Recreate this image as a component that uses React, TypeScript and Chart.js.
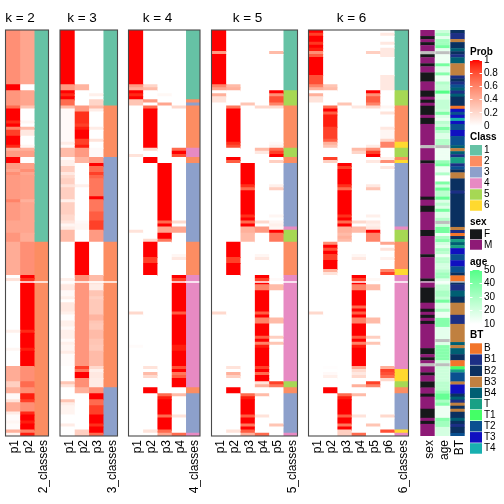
import React, { useEffect, useRef } from "react";
import { Chart, registerables } from "chart.js";

Chart.register(...registerables);

type Run = [number, number];
const ROWS = 134;
const SPLIT_ROW = 83;
const FONT = "'Liberation Sans', Arial, sans-serif";

const classColors = ["#66C2A5", "#FC8D62", "#8DA0CB", "#E78AC3", "#A6D854", "#FFD92F"];
const classLabels = ["1", "2", "3", "4", "5", "6"];
const sexLabels = ["F", "M"];
const sexColors = ["#16181A", "#8E1A76"];
const btLabels = ["B", "B1", "B2", "B3", "B4", "T", "T1", "T2", "T3", "T4"];
const btColors = ["#F2752A", "#1C2F85", "#0A3060", "#C08040", "#005F73", "#18A085", "#44FF66", "#0A5090", "#1010C0", "#18B0B0"];

const k2_p1: Run[] = [[18,.55],[2,1],[5,.52],[1,.7],[4,1],[1,.92],[1,1],[1,.6],[2,.85],[3,1],[1,.92],[1,.4],[2,.5],[2,1],[2,.5],[1,.45],[1,.55],[8,.5],[1,.6],[6,.5],[4,.45],[3,.52],[11,.42],[1,0],[1,.15],[16,0],[1,.08],[5,0],[1,.05],[5,0],[5,.42],[2,.25],[2,.4],[2,.03],[1,.15],[3,.42],[1,.1],[2,.02],[1,.05],[2,.02],[1,.4],[1,.05]];
const k2_p2: Run[] = [[18,.45],[2,0],[5,.45],[1,.3],[4,0],[1,.05],[1,0],[1,.35],[2,.12],[3,0],[1,.05],[1,.4],[2,.48],[2,0],[2,.48],[1,.55],[1,.45],[8,.48],[1,.4],[6,.45],[4,.45],[3,.42],[11,.55],[1,1],[1,.9],[16,1],[1,.92],[5,1],[1,.95],[5,1],[5,.55],[2,.7],[2,.55],[2,.95],[1,.85],[3,.55],[1,.92],[2,1],[1,.95],[2,1],[1,.6],[1,.95]];
const k2_cl: Run[] = [[70,1],[64,2]];

const k3_p1: Run[] = [[18,1],[2,.5],[1,1],[1,.92],[1,1],[2,.7],[1,.35],[11,.03],[1,.1],[1,.02],[3,.35],[1,.03],[2,.08],[2,.25],[1,.12],[1,.2],[2,.25],[1,.15],[4,.25],[1,.08],[4,.25],[2,.2],[1,.15],[1,.05],[1,.1],[4,.35],[12,0],[1,.08],[1,.03],[2,.12],[2,.03],[1,.08],[1,0],[3,.12],[1,.08],[2,.01],[2,.08],[1,.03],[3,.08],[1,.02],[1,.08],[2,.05],[1,.1],[4,.02],[5,0],[1,.3],[1,.15],[4,0],[1,.3],[1,.1],[3,.06],[3,0],[1,.1],[3,0]];
const k3_p2: Run[] = [[18,0],[2,.38],[5,0],[2,.5],[4,.9],[1,.85],[1,.95],[3,1],[2,.85],[1,.95],[3,.5],[2,.38],[7,0],[1,.08],[11,0],[1,.03],[2,.05],[4,0],[11,1],[2,.55],[28,.52],[1,.85],[1,.65],[2,1],[3,.55],[2,.4],[12,0],[2,.25]];
const k3_p3: Run[] = [[21,0],[1,.08],[1,0],[2,.22],[1,.35],[1,.1],[5,0],[1,.1],[3,0],[1,.15],[2,0],[3,.03],[2,.5],[1,1],[2,.7],[1,.85],[1,.72],[6,.65],[1,1],[4,.65],[3,.75],[3,.85],[4,.5],[11,0],[2,.35],[1,.15],[2,.1],[2,.3],[1,.25],[5,.28],[2,.38],[1,.3],[2,.28],[3,.35],[2,.3],[2,.28],[5,.35],[1,.2],[1,.08],[2,.12],[3,.1],[2,.55],[2,1],[2,.7],[3,.85],[3,1],[1,.9],[2,1],[1,.7]];
const k3_cl: Run[] = [[25,1],[17,2],[28,3],[48,2],[16,3]];

const k4_p1: Run[] = [[18,1],[1,.5],[1,.4],[1,1],[1,.92],[1,1],[2,.3],[16,0],[1,.15],[24,0],[1,.15],[26,0],[1,.2],[10,0],[1,.02],[29,0]];
const k4_p2: Run[] = [[18,0],[1,.22],[1,.35],[3,0],[1,.5],[1,0],[1,.7],[13,1],[1,.2],[2,0],[2,1],[25,0],[1,.2],[5,1],[2,.85],[4,1],[30,0],[1,.15],[1,0],[1,.35],[1,.2],[3,0],[2,1],[12,0],[1,.15],[1,0]];
const k4_p3: Run[] = [[21,0],[1,.04],[2,0],[1,.45],[19,0],[19,1],[1,.7],[1,1],[2,.45],[2,1],[1,.65],[50,0],[1,.7],[1,.95],[5,1],[1,.7],[4,1],[1,.7],[1,.45]];
const k4_p4: Run[] = [[25,0],[1,.2],[13,0],[1,.7],[1,1],[1,.8],[21,0],[1,.2],[1,0],[2,.45],[7,0],[1,.05],[1,.12],[5,0],[1,1],[1,.85],[10,1],[1,.75],[10,1],[2,.95],[5,1],[1,.8],[1,1],[1,.65],[1,.75],[3,1],[2,0],[1,.35],[6,0],[1,.15],[5,0],[1,.7]];
const k4_cl: Run[] = [[23,1],[1,2],[1,3],[14,2],[3,4],[2,2],[26,3],[11,2],[37,4],[2,2],[13,3],[1,4]];

const k5_p1: Run[] = [[7,1],[1,.5],[10,1],[1,.6],[1,.45],[1,0],[1,.4],[2,.15],[69,0],[1,.2],[40,0]];
const k5_p2: Run[] = [[18,0],[1,.35],[1,.4],[5,0],[1,.65],[11,1],[1,.9],[1,.8],[3,0],[1,1],[1,.75],[26,0],[5,1],[2,.85],[4,1],[30,0],[1,.15],[1,0],[1,.4],[1,.25],[3,0],[2,1],[12,0],[1,.15],[1,0]];
const k5_p3: Run[] = [[24,0],[1,.3],[19,0],[7,1],[1,.9],[1,.7],[8,1],[1,.9],[1,1],[1,.7],[1,1],[2,.4],[3,.35],[50,0],[1,.7],[1,.95],[5,1],[1,.75],[2,1],[1,.65],[1,1],[1,.75],[1,.4]];
const k5_p4: Run[] = [[25,0],[1,.2],[13,0],[1,.35],[1,.12],[22,0],[1,.2],[1,0],[2,.5],[7,0],[1,.05],[1,.12],[5,0],[1,1],[1,.85],[1,1],[2,.6],[7,1],[1,.75],[1,1],[2,.6],[4,1],[1,.75],[1,1],[1,.6],[1,.95],[6,1],[1,.85],[1,1],[1,.7],[1,1],[1,1],[1,.15],[1,.4],[2,0],[1,.35],[6,0],[1,.15],[5,0],[1,.7]];
const k5_p5: Run[] = [[7,0],[1,.35],[12,0],[1,1],[1,.55],[2,.8],[1,.6],[1,.2],[11,0],[1,.03],[1,.08],[1,.7],[1,.85],[1,1],[1,0],[1,.25],[7,0],[1,.08],[1,.25],[8,0],[1,.05],[1,0],[1,.05],[1,.08],[1,.05],[1,1],[3,.65],[12,0],[1,.03],[1,0],[2,.35],[9,0],[2,.35],[4,0],[1,.25],[1,0],[1,.3],[12,0],[1,.85],[1,.65],[12,0],[1,.3],[3,0]];
const k5_cl: Run[] = [[20,1],[5,5],[14,2],[3,5],[2,2],[21,3],[1,4],[4,5],[11,2],[35,4],[2,5],[2,2],[13,3],[1,4]];

const k6_p1: Run[] = [[1,1],[1,.85],[2,1],[1,.88],[1,1],[1,.95],[1,.55],[1,.75],[6,1],[3,.8],[1,.6],[1,.4],[1,0],[1,.4],[2,.15],[69,0],[1,.2],[40,0]];
const k6_p2: Run[] = [[18,0],[1,.3],[1,.35],[5,0],[1,.7],[1,1],[1,.75],[4,.95],[4,.85],[1,.75],[1,.4],[1,.3],[3,0],[1,.85],[1,.25],[26,0],[1,.55],[1,1],[1,.8],[1,1],[2,.85],[3,1],[1,.4],[1,.15],[30,0],[1,.01],[1,0],[1,.03],[1,.08],[3,0],[2,1],[14,0]];
const k6_p3: Run[] = [[24,0],[1,.3],[19,0],[1,1],[1,.85],[5,1],[1,.9],[1,.7],[8,1],[1,.9],[1,1],[1,.7],[1,1],[1,.4],[1,.4],[1,.35],[1,.4],[1,.35],[50,0],[1,.7],[1,.95],[5,1],[1,.75],[2,1],[1,.65],[1,1],[2,.25]];
const k6_p4: Run[] = [[25,0],[1,.12],[13,0],[1,.35],[1,.22],[22,0],[1,.2],[1,0],[2,.35],[7,0],[1,.05],[1,.12],[5,0],[1,1],[1,.85],[1,1],[2,.6],[5,1],[1,.7],[1,1],[1,.75],[1,1],[2,.6],[4,1],[1,.75],[1,1],[1,.6],[1,.95],[6,1],[1,.45],[1,.2],[1,.12],[1,.2],[2,0],[1,.4],[2,0],[1,.35],[6,0],[1,.15],[5,0],[1,.7]];
const k6_p5: Run[] = [[7,0],[1,.25],[12,0],[1,1],[1,.55],[2,.75],[1,.6],[1,.2],[12,0],[1,.1],[1,.55],[1,.85],[1,1],[1,0],[1,.12],[7,0],[1,.12],[1,.3],[8,0],[1,.08],[1,0],[1,.12],[1,.08],[1,.12],[1,1],[3,.6],[12,0],[1,.04],[1,0],[2,.35],[9,0],[2,.35],[4,0],[1,.25],[1,0],[1,.3],[12,0],[1,.85],[1,.6],[12,0],[1,.3],[3,0]];
const k6_p6: Run[] = [[1,0],[1,.12],[2,0],[1,.12],[1,0],[3,.12],[6,0],[5,.12],[5,0],[1,.05],[1,0],[1,.15],[4,0],[1,.12],[3,.05],[1,.22],[2,.6],[3,0],[1,.08],[1,.55],[1,0],[1,.12],[24,0],[1,.45],[1,0],[1,.15],[2,0],[1,.07],[3,0],[1,.6],[1,.85],[30,0],[1,.4],[1,.85],[1,.8],[1,.7],[1,.2],[11,0],[1,.2],[4,0],[1,.8],[1,0]];
const k6_cl: Run[] = [[20,1],[5,5],[12,2],[2,6],[3,5],[1,2],[1,6],[21,3],[1,4],[4,5],[9,2],[2,6],[31,4],[4,6],[2,5],[2,2],[12,3],[1,6],[1,4]];

// sex: 0 = missing, 1 = F, 2 = M
const sexRuns: Run[] = [[2,2],[1,1],[1,2],[1,1],[2,2],[1,0],[1,1],[2,2],[1,1],[2,2],[3,1],[3,2],[2,1],[1,2],[1,1],[1,2],[3,1],[1,2],[2,1],[7,2],[1,0],[4,2],[1,1],[11,2],[1,1],[2,2],[2,1],[6,2],[2,1],[6,2],[1,1],[7,2],[1,1],[2,2],[5,1],[2,2],[1,1],[1,2],[1,1],[1,2],[1,1],[8,2],[2,1],[1,2],[1,1],[1,2],[1,0],[2,2],[1,1],[2,2],[2,1],[2,2],[1,1],[4,2],[3,1],[1,2],[1,1],[4,2]];
const ageRows: (number | null)[] = [22,30,16,32,32,42,16,null,14,14,14,42,17,17,38,14,14,28,24,24,50,18,18,24,24,24,22,40,18,14,26,22,40,26,18,18,28,28,null,14,14,14,14,34,42,14,14,28,10,10,40,20,44,26,26,46,18,26,18,42,18,18,28,null,22,42,42,14,30,38,20,16,30,26,14,26,26,20,20,26,32,32,18,14,24,24,30,30,24,42,18,18,30,14,14,38,38,38,16,16,16,16,null,18,38,38,38,38,38,22,null,22,22,22,22,22,26,26,26,34,46,46,30,38,14,14,14,14,38,32,32,20,20,20];
// BT: index into btLabels
const btRuns: Run[] = [[1,2],[2,1],[1,3],[2,2],[1,4],[1,2],[1,1],[2,4],[4,3],[1,1],[1,2],[1,1],[1,7],[1,4],[1,1],[1,4],[3,2],[1,0],[1,8],[1,7],[1,8],[1,9],[1,8],[2,7],[2,8],[3,7],[1,4],[1,3],[1,4],[1,1],[2,5],[1,1],[1,7],[1,2],[2,3],[4,2],[1,1],[11,2],[1,3],[1,1],[1,0],[1,2],[1,5],[1,4],[1,5],[2,8],[2,7],[2,8],[2,7],[1,2],[2,0],[1,2],[2,1],[2,4],[2,2],[4,3],[3,1],[6,3],[1,4],[1,3],[2,4],[2,2],[2,0],[1,6],[1,5],[3,7],[1,3],[3,8],[1,2],[1,4],[1,1],[1,3],[1,2],[1,3],[2,2],[1,4],[1,2],[1,1],[2,2],[1,7]];

function probColor(v: number): string {
  const g = Math.round(255 * Math.pow(1 - v, 0.725));
  const b = Math.round(255 * Math.pow(1 - v, 0.975));
  return `rgb(255,${g},${b})`;
}
function ageColor(a: number | null): string {
  if (a === null) return "#BEBEBE";
  const t = (a - 10) / 40;
  const r = Math.round(255 + (84 - 255) * t);
  const g = 255;
  const b = Math.round(255 + (136 - 255) * t);
  return `rgb(${r},${g},${b})`;
}

type Col = { label: string; runs: { len: number; color: string }[] };
function probCol(label: string, runs: Run[]): Col {
  return { label, runs: runs.map(([len, v]) => ({ len, color: probColor(v) })) };
}
function classCol(label: string, runs: Run[]): Col {
  return { label, runs: runs.map(([len, c]) => ({ len, color: classColors[c - 1] })) };
}

const panels = [
  { title: "k = 2", x0: 5.5, x1: 48.5, cols: [probCol("p1", k2_p1), probCol("p2", k2_p2), classCol("2_classes", k2_cl)] },
  { title: "k = 3", x0: 60, x1: 117.5, cols: [probCol("p1", k3_p1), probCol("p2", k3_p2), probCol("p3", k3_p3), classCol("3_classes", k3_cl)] },
  { title: "k = 4", x0: 128.5, x1: 200, cols: [probCol("p1", k4_p1), probCol("p2", k4_p2), probCol("p3", k4_p3), probCol("p4", k4_p4), classCol("4_classes", k4_cl)] },
  { title: "k = 5", x0: 211.5, x1: 297.5, cols: [probCol("p1", k5_p1), probCol("p2", k5_p2), probCol("p3", k5_p3), probCol("p4", k5_p4), probCol("p5", k5_p5), classCol("5_classes", k5_cl)] },
  { title: "k = 6", x0: 308.5, x1: 408.5, cols: [probCol("p1", k6_p1), probCol("p2", k6_p2), probCol("p3", k6_p3), probCol("p4", k6_p4), probCol("p5", k6_p5), probCol("p6", k6_p6), classCol("6_classes", k6_cl)] },
];

const annotationCols: Col[] = [
  { label: "sex", runs: sexRuns.map(([len, c]) => ({ len, color: c === 0 ? "#BEBEBE" : sexColors[c - 1] })) },
  { label: "age", runs: ageRows.map((a) => ({ len: 1, color: ageColor(a) })) },
  { label: "BT", runs: btRuns.map(([len, c]) => ({ len, color: btColors[c] })) },
];

function colDataset(col: Col) {
  let s = 0;
  const data: { x: string; y: [number, number] }[] = [];
  const backgroundColor: string[] = [];
  for (const r of col.runs) {
    data.push({ x: col.label, y: [s, s + r.len + 0.12] });
    backgroundColor.push(r.color);
    s += r.len;
  }
  return { data, backgroundColor, borderWidth: 0, grouped: false, barPercentage: 1, categoryPercentage: 1 };
}

const framePlugin = {
  id: "frame",
  afterDatasetsDraw(chart: any) {
    const a = chart.chartArea;
    const c = chart.ctx;
    c.save();
    c.strokeStyle = "#4a4a4a";
    c.lineWidth = 1.1;
    c.strokeRect(a.left, a.top, a.right - a.left, a.bottom - a.top);
    c.restore();
  },
};

function fixedWidth(w: number) {
  return {
    display: true,
    grid: { display: false },
    border: { display: false },
    ticks: { display: false },
    afterFit: (s: any) => {
      s.width = w;
    },
  };
}

function Heat({ title, x0, x1, cols, frame, barPct, shift }: any) {
  const ref = useRef<HTMLCanvasElement>(null);
  const cl = Math.floor(x0) - 17;
  const pc = (x0 + x1) / 2;
  const width = Math.ceil(2 * (pc - shift - cl));
  useEffect(() => {
    const labels = cols.map((c: Col) => c.label);
    const gap = {
      data: labels.map((l: string) => ({ x: l, y: [SPLIT_ROW, SPLIT_ROW + 0.33] })),
      backgroundColor: "#ffffff",
      borderWidth: 0,
      grouped: false,
      barPercentage: 1,
      categoryPercentage: 1,
    };
    const datasets = [gap, ...cols.map(colDataset)].map((d: any) => ({
      ...d,
      barPercentage: barPct,
    }));
    const chart = new Chart(ref.current as HTMLCanvasElement, {
      type: "bar",
      data: { labels, datasets },
      plugins: frame ? [framePlugin] : [],
      options: {
        animation: false,
        responsive: false,
        layout: { padding: title ? 0 : { top: 30 } },
        plugins: {
          legend: { display: false },
          tooltip: { enabled: false },
          title: title
            ? {
                display: true,
                text: title,
                color: "#000",
                font: { family: FONT, size: 13.5, weight: "normal", lineHeight: 1 },
                padding: { top: 11.25, bottom: 5.25 },
              }
            : { display: false },
        },
        scales: {
          x: {
            type: "category",
            grid: { display: false, drawTicks: false },
            border: { display: false },
            ticks: {
              autoSkip: false,
              minRotation: 90,
              maxRotation: 90,
              padding: 4,
              labelOffset: 2,
              color: "#000",
              font: { family: FONT, size: 12 },
            },
            afterFit: (s: any) => {
              s.height = 68;
              s.paddingLeft = 0;
              s.paddingRight = 0;
            },
          },
          y: { ...fixedWidth(x0 - cl), position: "left", reverse: true, min: 0, max: ROWS },
          yRight: { ...fixedWidth(cl + width - x1), position: "right", min: 0, max: ROWS },
        },
      } as any,
    });
    return () => chart.destroy();
  }, []);
  return (
    <canvas
      ref={ref}
      width={width}
      height={504}
      style={{ position: "absolute", left: cl, top: 0, width, height: 504 }}
    />
  );
}

function legendTitle(text: string, bottom: number) {
  return {
    display: true,
    text,
    align: "start",
    color: "#000",
    font: { family: FONT, size: 10, weight: "bold", lineHeight: 1 },
    padding: { top: 0, bottom },
  };
}

function hiddenAxis(extra: any) {
  return { display: false, ...extra };
}

function rightAxis(extra: any) {
  return {
    position: "right",
    border: { display: false },
    ticks: { color: "#000", padding: 2, font: { family: FONT, size: 10 }, autoSkip: false },
    afterFit: (s: any) => {
      s.width = 22;
    },
    ...extra,
  };
}

function RampLegend({ title, top, rampBottom, min, max, step, high, titlePad }: any) {
  const ref = useRef<HTMLCanvasElement>(null);
  const height = rampBottom + 8 - top;
  useEffect(() => {
    const chart = new Chart(ref.current as HTMLCanvasElement, {
      type: "bar",
      data: {
        labels: [title],
        datasets: [
          {
            data: [[min, max]],
            borderWidth: 0,
            barPercentage: 1,
            categoryPercentage: 1,
            backgroundColor: (ctx: any) => {
              const a = ctx.chart.chartArea;
              if (!a) return "#fff";
              const g = ctx.chart.ctx.createLinearGradient(0, a.top, 0, a.bottom);
              for (let i = 0; i <= 20; i++) g.addColorStop(i / 20, high(1 - i / 20));
              return g;
            },
          },
        ],
      },
      options: {
        animation: false,
        responsive: false,
        layout: { padding: { left: 2, bottom: 8 } },
        plugins: { legend: { display: false }, tooltip: { enabled: false }, title: legendTitle(title, titlePad) },
        scales: {
          x: hiddenAxis({}),
          y: rightAxis({
            min,
            max,
            ticks: {
              color: "#000",
              padding: 2,
              stepSize: step,
              autoSkip: false,
              font: { family: FONT, size: 10 },
              callback: (v: number) => String(Math.round(v * 10) / 10),
            },
            grid: { z: 1, color: "#ffffff", drawTicks: false, lineWidth: 1 },
            border: { display: false, dash: [2.5, 7, 2.5] },
          }),
        },
      } as any,
    });
    return () => chart.destroy();
  }, []);
  return <canvas ref={ref} width={36} height={height} style={{ position: "absolute", left: 468, top, width: 36, height }} />;
}

function CatLegend({ title, top, labels, colors, itemHeight, titlePad }: any) {
  const ref = useRef<HTMLCanvasElement>(null);
  const height = Math.round(10 + titlePad + labels.length * itemHeight) + 6;
  useEffect(() => {
    const chart = new Chart(ref.current as HTMLCanvasElement, {
      type: "bar",
      data: {
        labels,
        datasets: [
          {
            data: labels.map(() => 1),
            backgroundColor: colors,
            borderWidth: 0,
            barPercentage: 0.95,
            categoryPercentage: 1,
          },
        ],
      },
      options: {
        indexAxis: "y",
        animation: false,
        responsive: false,
        layout: { padding: { left: 2, bottom: 6 } },
        plugins: { legend: { display: false }, tooltip: { enabled: false }, title: legendTitle(title, titlePad) },
        scales: {
          x: hiddenAxis({ min: 0, max: 1 }),
          y: rightAxis({ grid: { display: false, drawTicks: false } }),
        },
      } as any,
    });
    return () => chart.destroy();
  }, []);
  return <canvas ref={ref} width={36} height={height} style={{ position: "absolute", left: 468, top, width: 36, height }} />;
}

export default function App() {
  return (
    <>
      {panels.map((p) => (
        <Heat key={p.title} {...p} frame barPct={1} shift={7} />
      ))}
      <Heat x0={420} x1={465} cols={annotationCols} frame={false} barPct={0.96} shift={0} />
      <RampLegend title="Prob" top={47} rampBottom={126} min={0} max={1} step={0.2} high={probColor} titlePad={3} />
      <CatLegend title="Class" top={132} labels={classLabels} colors={classColors} itemHeight={11.33} titlePad={2.7} />
      <CatLegend title="sex" top={217} labels={sexLabels} colors={sexColors} itemHeight={11.6} titlePad={2} />
      <RampLegend title="age" top={257} rampBottom={324} min={10} max={50} step={10} high={(t: number) => ageColor(10 + 40 * t)} titlePad={3} />
      <CatLegend title="BT" top={330} labels={btLabels} colors={btColors} itemHeight={11.33} titlePad={3} />
    </>
  );
}
